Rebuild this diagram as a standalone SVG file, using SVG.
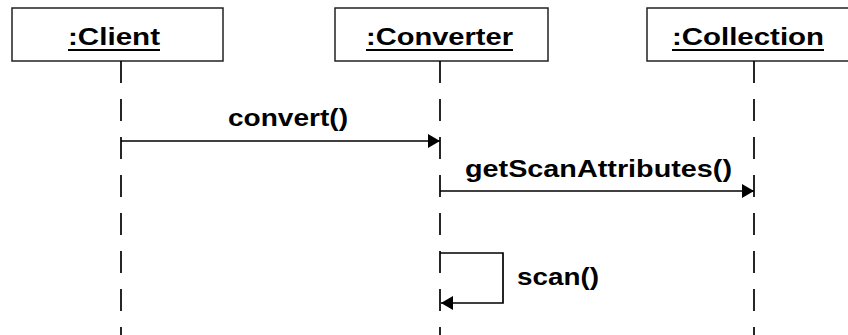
<svg xmlns="http://www.w3.org/2000/svg" width="848" height="335" viewBox="0 0 848 335">
<style>
.box{fill:#fff;stroke:#222;stroke-width:1.5}
.name{font-family:"Liberation Sans",Arial,sans-serif;font-weight:bold;font-size:24px;fill:#000}
.ul{stroke:#000;stroke-width:2}
.life{stroke:#000;stroke-width:1.7;stroke-dasharray:22 16;fill:none}
.msg{stroke:#000;stroke-width:1.7;fill:none}
.lbl{font-family:"Liberation Sans",Arial,sans-serif;font-weight:bold;font-size:23px;fill:#000}
</style>
<defs>
<marker id="ah" viewBox="0 0 12 14" refX="12" refY="7" markerWidth="12" markerHeight="14" markerUnits="userSpaceOnUse" orient="auto">
<path d="M0,0 L12,7 L0,14 Z" fill="#000"/>
</marker>
</defs>
<rect width="848" height="335" fill="#fff"/>
<g id="client">
<rect class="box" x="12" y="8" width="211" height="53"/>
<text class="name" x="68" y="45" textLength="92" lengthAdjust="spacingAndGlyphs">:Client</text>
<line class="ul" x1="68" y1="50" x2="160" y2="50"/>
<line class="life" x1="121" y1="61" x2="121" y2="335"/>
</g>
<g id="converter">
<rect class="box" x="335" y="8" width="213" height="53"/>
<text class="name" x="366" y="45" textLength="147" lengthAdjust="spacingAndGlyphs">:Converter</text>
<line class="ul" x1="366" y1="50" x2="513" y2="50"/>
<line class="life" x1="440" y1="61" x2="440" y2="335"/>
</g>
<g id="collection">
<rect class="box" x="647" y="8" width="213" height="53"/>
<text class="name" x="672" y="45" textLength="152" lengthAdjust="spacingAndGlyphs">:Collection</text>
<line class="ul" x1="672" y1="50" x2="824" y2="50"/>
<line class="life" x1="754" y1="61" x2="754" y2="335"/>
</g>
<g id="connectors">
<line class="msg" x1="121" y1="141" x2="440" y2="141" marker-end="url(#ah)"/>
<text class="lbl" x="228" y="126" textLength="120" lengthAdjust="spacingAndGlyphs">convert()</text>
<line class="msg" x1="440" y1="191" x2="754" y2="191" marker-end="url(#ah)"/>
<text class="lbl" x="465" y="177" textLength="267" lengthAdjust="spacingAndGlyphs">getScanAttributes()</text>
<polyline class="msg" points="440,253 503,253 503,303 441,303" marker-end="url(#ah)"/>
<text class="lbl" x="517" y="285" textLength="82" lengthAdjust="spacingAndGlyphs">scan()</text>
</g>
</svg>
